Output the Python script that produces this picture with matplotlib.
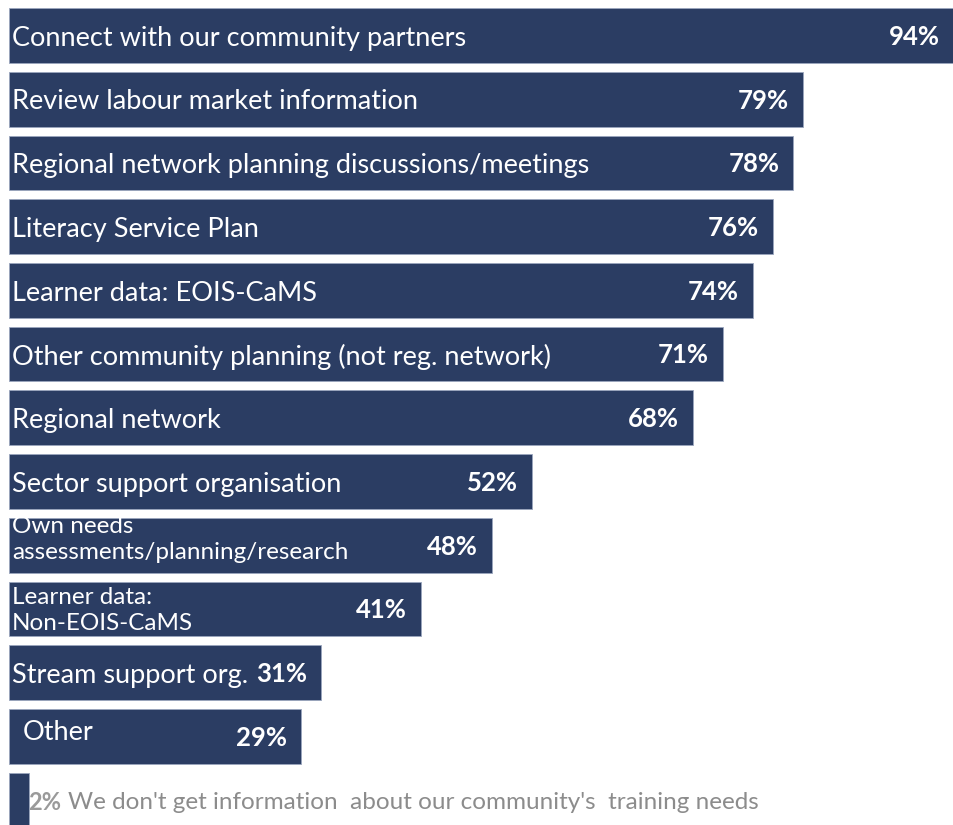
import matplotlib.pyplot as plt

plt.rcParams['font.family'] = ['Lato', 'DejaVu Sans']

labels = [
    "Connect with our community partners",
    "Review labour market information",
    "Regional network planning discussions/meetings",
    "Literacy Service Plan",
    "Learner data: EOIS-CaMS",
    "Other community planning (not reg. network)",
    "Regional network",
    "Sector support organisation",
    "Own needs\nassessments/planning/research",
    "Learner data:\nNon-EOIS-CaMS",
    "Stream support org.",
    "Other",
    "We don't get information  about our community's  training needs",
]
values = [94, 79, 78, 76, 74, 71, 68, 52, 48, 41, 31, 29, 2]

navy = '#2B3D63'
grey = '#8C8C8C'

fig = plt.figure(figsize=(9.54, 8.25), dpi=100)
ax = fig.add_axes([9/954, 0, 1 - 9/954, 1])
ax.set_xlim(0, 94)
ax.set_ylim(12.39, -0.557)
ax.axis('off')

ypos = list(range(len(values)))
ax.barh(ypos, values, height=0.86, color=navy, edgecolor='#9AA6BE', linewidth=0.6)

for i, (lab, v) in enumerate(zip(labels, values)):
    if i == len(values) - 1:
        # last row: tiny bar, text outside in grey
        ax.annotate(f"{v}%", (v, i), xytext=(-1, -2), textcoords='offset points',
                    ha='left', va='center', color='#9A9A9A', fontsize=17, fontweight='bold')
        ax.annotate(lab, (v, i), xytext=(28, -2), textcoords='offset points',
                    ha='left', va='center', color=grey, fontsize=17.5)
        continue
    small = '\n' in lab
    dx, dy = 2, -2
    if lab == "Other":
        dx, dy = 10, 3
    elif lab.startswith("Own"):
        dy = 4
    elif small:
        dy = -1
    ax.annotate(lab, (0, i), xytext=(dx, dy), textcoords='offset points',
                ha='left', va='center', color='white',
                fontsize=17.5 if small else 19.5, linespacing=1.3)
    ax.annotate(f"{v}%", (v, i), xytext=(-10, -1), textcoords='offset points',
                ha='right', va='center', color='white', fontsize=18.5, fontweight='bold')

fig.savefig('out.png', dpi=100)
